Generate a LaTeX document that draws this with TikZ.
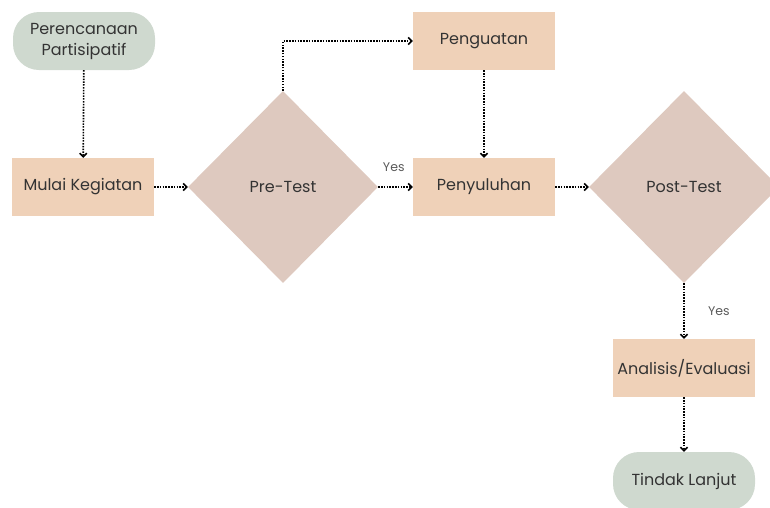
\documentclass[tikz,border=0pt]{standalone}
\usepackage{fontspec}
\setmainfont{Poppins}
\usepackage{xcolor}
\usepackage{tikz}
\usetikzlibrary{arrows.meta,shapes.geometric}
\definecolor{fcSage}{HTML}{CFD9CF}
\definecolor{fcPeach}{HTML}{EFD1B8}
\definecolor{fcRose}{HTML}{DEC9BF}
\definecolor{fcInk}{HTML}{333333}
\definecolor{fcMuted}{HTML}{5A5A5A}
\tikzset{
  fc diagram/.style={x=1pt, y=-1pt, font=\fontsize{16}{21}\selectfont, text=fcInk},
  fc pill/.style={fill=fcSage, rounded corners=26pt, minimum width=142pt,
    minimum height=58pt, align=center, inner sep=2pt},
  fc box/.style={fill=fcPeach, minimum width=142pt, minimum height=58pt,
    align=center, inner sep=2pt},
  fc decision/.style={diamond, fill=fcRose, minimum width=190pt,
    minimum height=192pt, inner sep=0pt},
  fc arrow/.style={-{Straight Barb[length=3.5pt, width=7pt, line width=1.6pt]},
    draw=black, line width=1.6pt, dash pattern=on 1.5pt off 1.3pt},
  fc label/.style={font=\fontsize{12.5}{15}\selectfont, text=fcMuted}
}
\begin{document}
\begin{tikzpicture}[fc diagram]
\useasboundingbox (0,0) rectangle (770,507);
\begin{scope}
\clip (0,0) rectangle (770,507);
\node[fc pill] (plan) at (84,41) {Perencanaan\\Partisipatif};
\node[fc box] (start) at (83,187) {Mulai Kegiatan};
\node[fc decision] (pre) at (283,187) {Pre-Test};
\node[fc box] (boost) at (484,41) {Penguatan};
\node[fc box] (teach) at (484,187) {Penyuluhan};
\node[fc decision] (post) at (684,187) {Post-Test};
\node[fc box] (eval) at (684,368) {Analisis/Evaluasi};
\node[fc pill] (next) at (684,481) {Tindak Lanjut};
\end{scope}
% flow
\draw[fc arrow] (plan) -- (start);
\draw[fc arrow] (start) -- (pre);
\draw[fc arrow] (pre.north) |- (boost);
\draw[fc arrow] (boost) -- (teach);
\draw[fc arrow] (pre) -- (teach) node[fc label, pos=0.45, above=11pt] (yesa) {Yes};
\draw[fc arrow] (teach) -- (post);
\draw[fc arrow] (post.south) -- (eval) node[fc label, midway, right=20pt] (yesb) {Yes};
\draw[fc arrow] (eval) -- (next);
\end{tikzpicture}
\end{document}
